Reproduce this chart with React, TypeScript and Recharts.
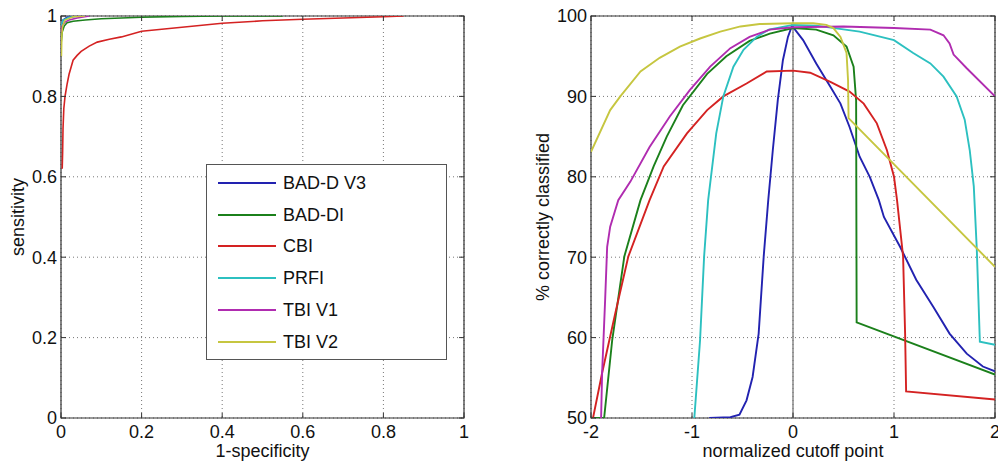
import React from "react";
import {
  LineChart,
  Line,
  XAxis,
  YAxis,
  CartesianGrid,
  ReferenceArea,
  ReferenceLine,
  Legend,
  Label,
} from "recharts";

const FONT = '"Liberation Sans", Arial, sans-serif';

const seriesNames = ["BAD-D V3", "BAD-DI", "CBI", "PRFI", "TBI V1", "TBI V2"];
const seriesColors = ["#2222b0", "#1b801b", "#d42222", "#2cc0c0", "#b02cb0", "#c6c640"];

// left panel: ROC curves (x = 1-specificity, y = sensitivity)
const rocTicks = [0, 0.2, 0.4, 0.6, 0.8, 1];
const rocBadDV3X = [0, 0.005, 0.015, 0.04];
const rocBadDV3Y = [0.97, 0.99, 0.997, 1];
const rocBadDIX = [0, 0.003, 0.008, 0.015, 0.03, 0.06, 0.1, 0.15, 0.2, 0.3, 0.4, 0.55];
const rocBadDIY = [0.93, 0.96, 0.975, 0.983, 0.987, 0.99, 0.993, 0.995, 0.997, 0.999, 1, 1];
const rocCbiX = [0.003, 0.004, 0.005, 0.007, 0.01, 0.015, 0.02, 0.03, 0.04, 0.05, 0.07, 0.09, 0.12, 0.15, 0.2, 0.25, 0.3, 0.4, 0.5, 0.6, 0.7, 0.8, 0.85];
const rocCbiY = [0.62, 0.66, 0.72, 0.77, 0.8, 0.83, 0.855, 0.89, 0.902, 0.912, 0.925, 0.935, 0.942, 0.948, 0.962, 0.967, 0.972, 0.982, 0.988, 0.992, 0.995, 0.998, 1];
const rocPrfiX = [0, 0.005, 0.02, 0.05];
const rocPrfiY = [0.975, 0.99, 0.997, 1];
const rocTbiV1X = [0, 0.003, 0.01, 0.02, 0.04, 0.07];
const rocTbiV1Y = [0.96, 0.975, 0.985, 0.99, 0.995, 1];
const rocTbiV2X = [0.001, 0.002, 0.004, 0.01, 0.03, 0.06];
const rocTbiV2Y = [0.9, 0.95, 0.975, 0.99, 0.998, 1];

// right panel: % correctly classified vs normalized cutoff point
const cutXTicks = [-2, -1, 0, 1, 2];
const cutYTicks = [50, 60, 70, 80, 90, 100];
const cutBadDV3X = [-0.83, -0.62, -0.53, -0.46, -0.4, -0.34, -0.29, -0.245, -0.2, -0.15, -0.1, -0.05, -0.01, 0.1, 0.23, 0.37, 0.47, 0.56, 0.66, 0.76, 0.85, 0.9, 1.06, 1.22, 1.39, 1.55, 1.72, 1.88, 2.0];
const cutBadDV3Y = [50, 50.1, 50.4, 52.2, 55.1, 60.5, 70.1, 77.1, 83.3, 89.6, 94.5, 97.4, 98.8, 97.0, 94.1, 91.2, 89.1, 86.2, 82.5, 80.0, 77.1, 75.0, 71.3, 67.2, 63.8, 60.5, 58.0, 56.4, 55.8];
const cutBadDIX = [-2, -1.87, -1.79, -1.67, -1.51, -1.38, -1.25, -1.09, -0.85, -0.66, -0.43, -0.23, 0, 0.23, 0.4, 0.53, 0.6, 0.625, 0.63, 2.0];
const cutBadDIY = [50, 50, 59.7, 70.1, 77.1, 81.3, 85.0, 88.9, 92.8, 95.0, 96.9, 97.8, 98.5, 98.3, 97.6, 96.2, 93.7, 89.5, 61.9, 55.4];
const cutCbiX = [-1.98, -1.89, -1.76, -1.63, -1.42, -1.28, -1.05, -0.85, -0.69, -0.46, -0.26, 0, 0.17, 0.37, 0.56, 0.7, 0.83, 0.93, 1.0, 1.03, 1.09, 1.11, 1.12, 2.0];
const cutCbiY = [50, 55.6, 63.0, 70.1, 77.1, 81.3, 85.4, 88.3, 90.0, 91.6, 93.1, 93.2, 92.95, 91.8, 90.6, 89.1, 86.65, 83.3, 80.0, 77.1, 70.1, 60.5, 53.3, 52.3];
const cutPrfiX = [-0.977, -0.92, -0.88, -0.84, -0.76, -0.69, -0.59, -0.49, -0.36, -0.24, 0, 0.23, 0.66, 1.0, 1.19, 1.36, 1.49, 1.62, 1.7, 1.75, 1.79, 1.82, 1.85, 2.0];
const cutPrfiY = [50, 59.7, 70.1, 77.1, 85.4, 90.0, 93.7, 95.8, 97.4, 98.3, 98.9, 98.8, 98.05, 97.0, 95.4, 94.1, 92.45, 90.0, 87.1, 83.3, 78.8, 70.9, 59.5, 59.1];
const cutTbiV1X = [-1.9, -1.89, -1.86, -1.84, -1.81, -1.73, -1.61, -1.42, -1.22, -1.02, -0.82, -0.62, -0.43, -0.23, 0, 0.5, 1.0, 1.36, 1.49, 1.55, 1.59, 1.72, 2.0];
const cutTbiV1Y = [50, 55.6, 64.7, 71.3, 73.8, 77.1, 79.4, 83.7, 87.5, 90.8, 93.7, 96.0, 97.4, 98.3, 98.6, 98.7, 98.5, 98.3, 97.6, 96.6, 95.2, 93.5, 90.0];
const cutTbiV2X = [-2, -1.81, -1.71, -1.51, -1.32, -1.12, -0.92, -0.72, -0.52, -0.33, 0, 0.2, 0.33, 0.4, 0.47, 0.53, 0.545, 0.55, 2.0];
const cutTbiV2Y = [83.1, 88.3, 90, 93.1, 94.8, 96.2, 97.2, 98.05, 98.7, 99.0, 99.1, 99.1, 98.9, 98.5, 97.4, 95.4, 92, 87.3, 68.8];

const toPoints = (xs: number[], ys: number[]) => xs.map((x, i) => ({ x, y: ys[i] }));

const makeSeries = (pairs: [number[], number[]][]) =>
  pairs.map(([xs, ys], i) => ({ name: seriesNames[i], color: seriesColors[i], data: toPoints(xs, ys) }));

const rocSeries = makeSeries([
  [rocBadDV3X, rocBadDV3Y],
  [rocBadDIX, rocBadDIY],
  [rocCbiX, rocCbiY],
  [rocPrfiX, rocPrfiY],
  [rocTbiV1X, rocTbiV1Y],
  [rocTbiV2X, rocTbiV2Y],
]);

const cutSeries = makeSeries([
  [cutBadDV3X, cutBadDV3Y],
  [cutBadDIX, cutBadDIY],
  [cutCbiX, cutCbiY],
  [cutPrfiX, cutPrfiY],
  [cutTbiV1X, cutTbiV1Y],
  [cutTbiV2X, cutTbiV2Y],
]);

const H = 468;
const TOP = 16;
const BOTTOM = 418;

const LegendBox = () => (
  <div
    style={{
      width: 241,
      height: 196,
      boxSizing: "border-box",
      border: "1.5px solid #555",
      background: "#fff",
      position: "relative",
      fontFamily: FONT,
      fontSize: 18,
      color: "#111",
    }}
  >
    {seriesNames.map((n, i) => (
      <div key={n} style={{ position: "absolute", left: 0, top: 17.7 + i * 31.8 - 11, height: 22, display: "flex", alignItems: "center" }}>
        <div style={{ marginLeft: 11, width: 58, height: 2, background: seriesColors[i] }} />
        <span style={{ marginLeft: 7, lineHeight: "22px" }}>{n}</span>
      </div>
    ))}
  </div>
);

type PanelProps = {
  width: number;
  plotRight: number;
  xDomain: [number, number];
  yDomain: [number, number];
  xTicks: number[];
  yTicks: number[];
  xLabels: string[];
  yLabels: string[];
  xTitle: string;
  yTitle: string;
  yTitleX: number;
  series: { name: string; color: string; data: { x: number; y: number }[] }[];
  strokeWidth: number;
  legend?: boolean;
  zeroLine?: boolean;
};

const Panel = (p: PanelProps) => {
  const xTick = (t: any) => {
    const idx = p.xTicks.indexOf(t.payload.value);
    return (
      <g>
        <line x1={t.x} x2={t.x} y1={BOTTOM} y2={BOTTOM - 5} stroke="#333" />
        <line x1={t.x} x2={t.x} y1={TOP} y2={TOP + 5} stroke="#333" />
        <text x={t.x} y={t.y} dy="0.71em" textAnchor="middle" fontFamily={FONT} fontSize={18} fill="#111">
          {p.xLabels[idx]}
        </text>
      </g>
    );
  };
  const yTick = (t: any) => {
    const idx = p.yTicks.indexOf(t.payload.value);
    return (
      <g>
        <line x1={61} x2={66} y1={t.y} y2={t.y} stroke="#333" />
        <line x1={p.plotRight - 5} x2={p.plotRight} y1={t.y} y2={t.y} stroke="#333" />
        <text x={t.x} y={t.y} dy="0.355em" textAnchor="end" fontFamily={FONT} fontSize={18} fill="#111">
          {p.yLabels[idx]}
        </text>
      </g>
    );
  };
  const xTitle = (l: any) => {
    const vb = l.viewBox;
    return (
      <text x={vb.x + vb.width / 2} y={457} textAnchor="middle" fontFamily={FONT} fontSize={18} fill="#111">
        {p.xTitle}
      </text>
    );
  };
  const yTitle = (l: any) => {
    const vb = l.viewBox;
    const cy = vb.y + vb.height / 2;
    return (
      <text
        x={p.yTitleX}
        y={cy}
        transform={`rotate(-90 ${p.yTitleX} ${cy})`}
        textAnchor="middle"
        fontFamily={FONT}
        fontSize={18}
        fill="#111"
      >
        {p.yTitle}
      </text>
    );
  };

  return (
    <LineChart width={p.width} height={H} margin={{ top: TOP, right: p.width - p.plotRight, left: 0, bottom: 0 }}>
      <CartesianGrid strokeDasharray="1 3" stroke="#777" />
      <XAxis
        dataKey="x"
        type="number"
        domain={p.xDomain}
        ticks={p.xTicks}
        allowDataOverflow
        height={H - BOTTOM}
        axisLine={false}
        tickLine={false}
        tickSize={0}
        tickMargin={7}
        tick={xTick}
        interval={0}
      >
        <Label content={xTitle} />
      </XAxis>
      <YAxis
        type="number"
        domain={p.yDomain}
        ticks={p.yTicks}
        allowDataOverflow
        width={61}
        axisLine={false}
        tickLine={false}
        tickSize={0}
        tickMargin={4}
        tick={yTick}
        interval={0}
      >
        <Label content={yTitle} />
      </YAxis>
      {p.zeroLine && <ReferenceLine x={0} stroke="#777" strokeWidth={1.3} />}
      {p.series.map((s) => (
        <Line
          key={s.name}
          data={s.data}
          dataKey="y"
          name={s.name}
          type="linear"
          stroke={s.color}
          strokeWidth={p.strokeWidth}
          dot={false}
          activeDot={false}
          isAnimationActive={false}
        />
      ))}
      <ReferenceArea
        x1={p.xDomain[0]}
        x2={p.xDomain[1]}
        y1={p.yDomain[0]}
        y2={p.yDomain[1]}
        fill="none"
        stroke="#333"
        strokeWidth={1.2}
        ifOverflow="visible"
      />
      {p.legend && (
        <Legend
          layout="horizontal"
          verticalAlign="middle"
          align="center"
          wrapperStyle={{ left: 206, top: 164, width: 241, height: 196 }}
          content={() => <LegendBox />}
        />
      )}
    </LineChart>
  );
};

export default function App() {
  return (
    <div style={{ position: "absolute", left: 0, top: 0, width: 998, height: H, background: "#fff" }}>
      <div style={{ position: "absolute", left: 0, top: 0 }}>
        <Panel
          width={480}
          plotRight={464}
          xDomain={[0, 1]}
          yDomain={[0, 1]}
          xTicks={rocTicks}
          yTicks={rocTicks}
          xLabels={["0", "0.2", "0.4", "0.6", "0.8", "1"]}
          yLabels={["0", "0.2", "0.4", "0.6", "0.8", "1"]}
          xTitle="1-specificity"
          yTitle="sensitivity"
          yTitleX={24}
          series={rocSeries}
          strokeWidth={1.6}
          legend
        />
      </div>
      <div style={{ position: "absolute", left: 530, top: 0 }}>
        <Panel
          width={468}
          plotRight={465}
          xDomain={[-2, 2]}
          yDomain={[50, 100]}
          xTicks={cutXTicks}
          yTicks={cutYTicks}
          xLabels={["-2", "-1", "0", "1", "2"]}
          yLabels={["50", "60", "70", "80", "90", "100"]}
          xTitle="normalized cutoff point"
          yTitle="% correctly classified"
          yTitleX={19}
          series={cutSeries}
          strokeWidth={1.9}
          zeroLine
        />
      </div>
    </div>
  );
}
